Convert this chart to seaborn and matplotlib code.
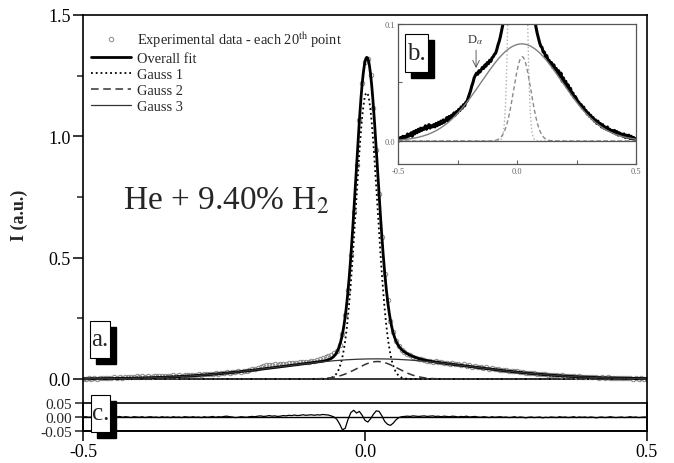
import numpy as np
import pandas as pd
import matplotlib
matplotlib.use("Agg")
import matplotlib.pyplot as plt
from matplotlib.patches import Rectangle
from matplotlib.ticker import FixedLocator
import seaborn as sns

# measured spectrum (each 20th point), x from -0.5 to 0.5 in steps of 0.005
exp_y = [
    0.002, 0.000, 0.003, 0.001, 0.004, 0.002, 0.004, 0.003, 0.006, 0.004,   # -0.500
    0.005, 0.007, 0.004, 0.008, 0.006, 0.009, 0.007, 0.010, 0.008, 0.011,   # -0.450
    0.009, 0.011, 0.010, 0.013, 0.010, 0.012, 0.014, 0.011, 0.013, 0.012,   # -0.400
    0.014, 0.012, 0.015, 0.013, 0.016, 0.014, 0.017, 0.015, 0.018, 0.016,   # -0.350
    0.018, 0.020, 0.017, 0.021, 0.019, 0.022, 0.021, 0.024, 0.022, 0.025,   # -0.300
    0.024, 0.027, 0.026, 0.029, 0.028, 0.031, 0.030, 0.033, 0.034, 0.037,   # -0.250
    0.040, 0.043, 0.047, 0.050, 0.054, 0.056, 0.058, 0.057, 0.060, 0.059,   # -0.200
    0.061, 0.063, 0.062, 0.065, 0.064, 0.067, 0.066, 0.069, 0.068, 0.071,   # -0.150
    0.072, 0.074, 0.075, 0.078, 0.082, 0.085, 0.089, 0.094, 0.099, 0.106,   # -0.100
    0.117, 0.140, 0.184, 0.262, 0.368, 0.512, 0.688, 0.880, 1.068, 1.220,   # -0.050
    1.305, 1.318, 1.251, 1.118, 0.942, 0.762, 0.586, 0.434, 0.325, 0.241,   #  0.000
    0.192, 0.156, 0.136, 0.120, 0.112, 0.103, 0.097, 0.092, 0.088, 0.084,   #  0.050
    0.081, 0.080, 0.076, 0.076, 0.072, 0.073, 0.069, 0.069, 0.066, 0.067,   #  0.100
    0.063, 0.065, 0.061, 0.062, 0.058, 0.060, 0.055, 0.058, 0.051, 0.054,   #  0.150
    0.049, 0.051, 0.046, 0.048, 0.043, 0.045, 0.040, 0.041, 0.037, 0.038,   #  0.200
    0.036, 0.034, 0.033, 0.031, 0.031, 0.028, 0.029, 0.026, 0.026, 0.023,   #  0.250
    0.024, 0.021, 0.022, 0.019, 0.020, 0.017, 0.018, 0.015, 0.017, 0.014,   #  0.300
    0.015, 0.012, 0.014, 0.011, 0.012, 0.010, 0.012, 0.009, 0.010, 0.008,   #  0.350
    0.009, 0.007, 0.009, 0.006, 0.008, 0.005, 0.007, 0.005, 0.006, 0.004,   #  0.400
    0.006, 0.003, 0.005, 0.003, 0.005, 0.002, 0.004, 0.002, 0.003, 0.001,   #  0.450
    0.002,                                                                  #  0.500
]

# residual (data - fit), same x grid
resid_y = [
    0.000, 0.001, -0.001, 0.000, 0.002, -0.001, 0.000, 0.001, -0.002, 0.000,
    0.001, -0.001, 0.000, 0.002, -0.001, 0.001, 0.000, -0.002, 0.001, 0.000,
    -0.001, 0.001, -0.002, 0.000, 0.001, -0.001, 0.000, -0.002, 0.001, -0.001,
    0.000, -0.002, 0.001, -0.001, 0.000, -0.002, 0.001, 0.000, -0.001, 0.001,
    -0.001, 0.000, -0.002, 0.001, -0.001, 0.000, 0.002, -0.001, 0.001, 0.000,
    0.002, 0.003, 0.001, 0.000, -0.002, -0.001, 0.001, 0.000, -0.001, 0.001,
    0.002, 0.001, 0.003, 0.004, 0.002, 0.003, 0.005, 0.003, 0.004, 0.002,
    0.003, 0.005, 0.004, 0.006, 0.005, 0.007, 0.005, 0.006, 0.008, 0.006,
    0.007, 0.008, 0.006, 0.008, 0.007, 0.009, 0.008, 0.007, 0.004, 0.000,
    -0.008, -0.025, -0.046, -0.040, -0.008, 0.016, 0.024, 0.014, 0.020, 0.006,
    -0.012, -0.018, -0.006, 0.010, 0.022, 0.020, 0.004, -0.016, -0.026, -0.030,
    -0.022, -0.010, -0.002, 0.001, 0.002, 0.003, 0.002, 0.004, 0.003, 0.002,
    0.003, 0.004, 0.002, 0.003, 0.004, 0.002, 0.003, 0.001, 0.003, 0.002,
    0.001, 0.003, 0.002, 0.000, 0.002, 0.001, 0.003, 0.000, 0.001, 0.002,
    0.000, -0.001, 0.001, 0.000, -0.002, 0.001, -0.001, 0.000, 0.001, -0.001,
    0.000, -0.002, -0.001, 0.001, -0.002, 0.000, -0.001, -0.003, -0.001, 0.000,
    -0.002, -0.001, 0.000, -0.003, -0.001, -0.002, 0.000, -0.001, -0.002, 0.001,
    -0.001, 0.000, -0.002, -0.001, 0.001, -0.002, 0.000, -0.001, 0.000, -0.002,
    0.000, -0.001, -0.003, -0.001, 0.000, -0.002, -0.001, 0.001, -0.001, -0.002,
    -0.001, 0.000, -0.002, -0.001, 0.001, -0.001, 0.000, -0.002, -0.001, 0.000,
    -0.001,
]

# fitted gaussian components (amplitude, centre, sigma)
gauss_names = ["Gauss 1", "Gauss 2", "Gauss 3"]
gauss_amp = [1.18, 0.072, 0.083]
gauss_cen = [0.003, 0.022, 0.020]
gauss_sig = [0.019, 0.036, 0.170]

exp_x = np.round(np.linspace(-0.5, 0.5, len(exp_y)), 3)
fit_x = np.linspace(-0.5, 0.5, 1001)
comps = [a * np.exp(-(fit_x - c) ** 2 / (2 * s ** 2))
         for a, c, s in zip(gauss_amp, gauss_cen, gauss_sig)]
overall = np.sum(comps, axis=0)

sns.set_theme(style="ticks")
plt.rcParams["font.family"] = ["Liberation Serif", "DejaVu Serif"]
plt.rcParams["mathtext.fontset"] = "stix"
plt.rcParams["axes.linewidth"] = 1.2

W, H = 674, 464
fig = plt.figure(figsize=(W / 100, H / 100), dpi=100)


def frac(x0, y0, x1, y1):
    return [x0 / W, 1 - y1 / H, (x1 - x0) / W, (y1 - y0) / H]


ax = fig.add_axes(frac(83, 16, 647, 432))
axr = fig.add_axes(frac(83, 404, 647, 432))
axi = fig.add_axes(frac(398, 25, 636, 165))

# ---- main panel
sns.lineplot(x=exp_x, y=exp_y, ax=ax, linestyle="", marker="o", markersize=3.2,
             markerfacecolor="none", markeredgecolor="#8a8a8a", markeredgewidth=0.7,
             label="Experimental data - each 20$^{\\mathrm{th}}$ point", errorbar=None)
sns.lineplot(x=fit_x, y=overall, ax=ax, color="black", lw=2.0, label="Overall fit", errorbar=None)
styles = [dict(color="black", lw=1.3, linestyle=":"),
          dict(color="#333333", lw=1.1, linestyle=(0, (5, 3))),
          dict(color="#333333", lw=0.9, linestyle="-")]
for name, yv, st in zip(gauss_names, comps, styles):
    sns.lineplot(x=fit_x, y=yv, ax=ax, label=name, errorbar=None, **st)
ax.axhline(0, color="black", lw=1.1, zorder=1)

ax.set_xlim(-0.5, 0.5)
ax.set_ylim(-0.2143, 1.5)
ax.set_xticks([-0.5, 0.0, 0.5])
ax.set_xticklabels(["-0.5", "0.0", "0.5"])
ax.set_yticks([0.0, 0.5, 1.0, 1.5])
ax.set_yticklabels(["0.0", "0.5", "1.0", "1.5"])
ax.yaxis.set_minor_locator(FixedLocator([0.25, 0.75, 1.25]))
ax.tick_params(which="major", direction="out", length=7, width=1.1, labelsize=13, pad=2,
               colors="black")
ax.tick_params(which="minor", direction="out", length=4, width=1.1)
ax.set_xlabel("")
ax.set_ylabel("I (a.u.)", fontsize=13, fontweight="bold")
ax.yaxis.set_label_coords(-0.0975, 0.52)
for sp in ax.spines.values():
    sp.set_color("black")
    sp.set_linewidth(1.2)

handles, labels = ax.get_legend_handles_labels()
ax.legend(handles, labels, loc="upper left", bbox_to_anchor=(0.0142, 0.966),
          frameon=False, fontsize=10.4, handlelength=2.8, handletextpad=0.4,
          labelspacing=0.2, borderaxespad=0, borderpad=0)

fig.text(123 / W, 1 - 210 / H, "He + 9.40% H$_2$", fontsize=24, va="baseline")

# ---- residual panel
axr.patch.set_alpha(0)
sns.lineplot(x=exp_x, y=resid_y, ax=axr, color="black", lw=0.9, errorbar=None)
axr.axhline(0, color="black", lw=1.0)
axr.set_xlim(-0.5, 0.5)
axr.set_ylim(-0.05, 0.05)
axr.set_xticks([])
axr.set_yticks([-0.05, 0.0, 0.05])
axr.set_yticklabels(["-0.05", "0.00", "0.05"])
axr.tick_params(axis="y", direction="out", length=6, width=1.1, labelsize=11, pad=2)
for sp in axr.spines.values():
    sp.set_color("black")
    sp.set_linewidth(1.2)

# ---- inset
sns.lineplot(x=exp_x, y=exp_y, ax=axi, color="black", lw=2.2, errorbar=None)
inset_styles = [dict(color="#b0b0b0", lw=1.0, linestyle=":"),
                dict(color="#8a8a8a", lw=1.0, linestyle=(0, (3, 2))),
                dict(color="#808080", lw=1.0, linestyle="-")]
for yv, st in zip(comps, inset_styles):
    sns.lineplot(x=fit_x, y=yv, ax=axi, errorbar=None, **st)
axi.axhline(0, color="#555555", lw=0.9)
axi.set_xlim(-0.5, 0.5)
axi.set_ylim(-0.0197, 0.1)
axi.set_xticks([-0.5, 0.0, 0.5])
axi.set_xticklabels(["-0.5", "0.0", "0.5"])
axi.xaxis.set_minor_locator(FixedLocator([-0.25, 0.25]))
axi.set_yticks([0.0, 0.1])
axi.set_yticklabels(["0.0", "0.1"])
axi.yaxis.set_minor_locator(FixedLocator([0.05]))
axi.tick_params(which="both", direction="in", length=3, width=0.8, labelsize=6,
                colors="#666666", pad=2)
for sp in axi.spines.values():
    sp.set_color("#555555")
    sp.set_linewidth(0.9)
axi.annotate("", xy=(-0.172, 0.060), xytext=(-0.172, 0.080),
             arrowprops=dict(arrowstyle="->", lw=0.6, color="#444444"))
axi.text(-0.176, 0.081, "D$_\\alpha$", fontsize=9, ha="center", va="bottom", color="#333333")


# ---- boxed panel tags with drop shadow
def tag_box(x0, y0, x1, y1, text, fs):
    fig.add_artist(Rectangle(((x0 + 6) / W, 1 - (y1 + 6) / H), (x1 - x0) / W, (y1 - y0) / H,
                             transform=fig.transFigure, facecolor="black",
                             edgecolor="black", zorder=5))
    fig.add_artist(Rectangle((x0 / W, 1 - y1 / H), (x1 - x0) / W, (y1 - y0) / H,
                             transform=fig.transFigure, facecolor="white",
                             edgecolor="black", lw=0.8, zorder=6))
    fig.text((x0 + x1) / 2 / W, 1 - (y0 + y1) / 2 / H, text, fontsize=fs,
             ha="center", va="center", zorder=7)


tag_box(90, 322, 110, 359, "a.", 18)
tag_box(91, 396, 110, 433, "c.", 18)
tag_box(405, 35, 428, 73, "b.", 18)

fig.savefig("out.png", dpi=100)
